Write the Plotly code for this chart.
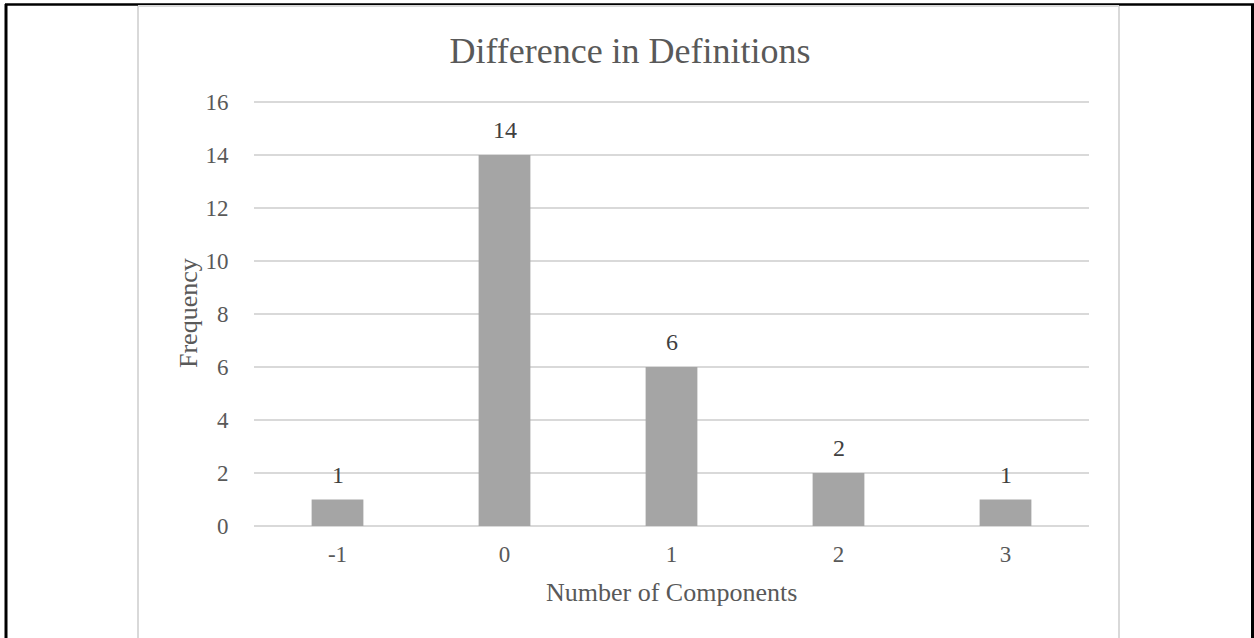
import plotly.graph_objects as go

# Frequency of the difference in number of definition components
components = [-1, 0, 1, 2, 3]
frequency = [1, 14, 6, 2, 1]
y_ticks = [0, 2, 4, 6, 8, 10, 12, 14, 16]

W, H = 1254, 638
L, R, T, B = 254, 165, 94, 112
PW, PH = W - L - R, H - T - B


def px_x(x):
    return (x - L) / PW


def px_y(y):
    return (H - B - y) / PH


FONT = "Liberation Serif, Times New Roman, serif"
TEXT = "#595959"
GRID = "#D9D9D9"

fig = go.Figure(
    go.Bar(
        x=components,
        y=frequency,
        width=0.31,
        marker=dict(color="#A5A5A5", line=dict(width=0)),
        hoverinfo="x+y",
    )
)

# value labels above each bar
annotations = [
    dict(x=c, y=v, xref="x", yref="y", text=str(v), showarrow=False,
         yshift=25, yanchor="middle",
         font=dict(family=FONT, size=24, color="#404040"))
    for c, v in zip(components, frequency)
]
# axis titles
annotations.append(dict(x=px_x(671), y=px_y(592), xref="paper", yref="paper",
                        text="Number of Components", showarrow=False,
                        xanchor="center", yanchor="middle",
                        font=dict(family=FONT, size=26, color=TEXT)))
annotations.append(dict(x=px_x(188), y=px_y(313), xref="paper", yref="paper",
                        text="Frequency", showarrow=False, textangle=-90,
                        xanchor="center", yanchor="middle",
                        font=dict(family=FONT, size=26, color=TEXT)))

shapes = []
# outer black frame
for x0, y0, x1, y1 in [(6, 4, 6, H), (1252.5, 4, 1252.5, H), (5, 4.5, 1254, 4.5)]:
    shapes.append(dict(type="line", xref="paper", yref="paper",
                       x0=px_x(x0), x1=px_x(x1), y0=px_y(y0), y1=px_y(y1),
                       line=dict(color="black", width=3 if x0 == x1 else 2.5)))
# chart-area border
for x0, y0, x1, y1 in [(138, 6, 138, H), (1119, 6, 1119, H), (138, 6, 1119, 6)]:
    shapes.append(dict(type="line", xref="paper", yref="paper",
                       x0=px_x(x0), x1=px_x(x1), y0=px_y(y0), y1=px_y(y1),
                       line=dict(color=GRID, width=2)))

fig.update_layout(
    width=W, height=H,
    margin=dict(l=L, r=R, t=T, b=B, pad=0),
    paper_bgcolor="white", plot_bgcolor="white",
    showlegend=False,
    font=dict(family=FONT, color=TEXT),
    title=dict(text="Difference in Definitions", xref="container", x=630 / W,
               xanchor="center", y=1 - 50 / H, yanchor="middle",
               font=dict(family=FONT, size=36, color=TEXT)),
    xaxis=dict(
        tickmode="array", tickvals=components, ticktext=[str(c) for c in components],
        range=[-1.5, 3.5], showgrid=False, zeroline=False, showline=False,
        ticks="outside", ticklen=7, tickcolor="rgba(0,0,0,0)",
        tickfont=dict(family=FONT, size=23, color=TEXT),
    ),
    yaxis=dict(
        tickmode="array", tickvals=y_ticks, range=[0, 16.3],
        showgrid=True, gridcolor=GRID, gridwidth=1.5,
        zeroline=True, zerolinecolor=GRID, zerolinewidth=1.5,
        showline=False, ticks="outside", ticklen=20, tickcolor="rgba(0,0,0,0)",
        tickfont=dict(family=FONT, size=23, color=TEXT),
    ),
    shapes=shapes,
    annotations=annotations,
)

fig.write_html("out.html")
